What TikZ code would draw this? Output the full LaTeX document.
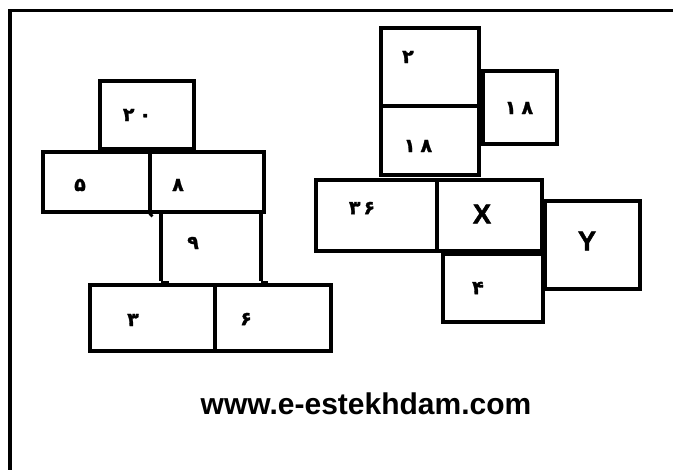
\documentclass[tikz,border=0pt]{standalone}
\usepackage{fontspec}
\setmainfont{Liberation Sans}
\newfontfamily\lbold{Liberation Sans Bold}
\newfontfamily\lheavy[FakeBold=2]{Liberation Sans Bold}
\newfontfamily\fa[Script=Arabic,FakeBold=1.5]{DejaVu Sans Bold}
\begin{document}
\begin{tikzpicture}[x=1pt,y=-1pt,
  box/.style={draw=black, line width=4pt, inner sep=0pt, fill=none},
  num/.style={inner sep=0pt, font=\fa\fontsize{19}{19}\selectfont},
  let/.style={inner sep=0pt, font=\lheavy\fontsize{27}{27}\selectfont},
  frameline/.style={line width=3.5pt}]
\fill[white] (0,0) rectangle (673,470);
\useasboundingbox (0,0) rectangle (673,470);
% frame
\coordinate (fbl) at (10,472);
\coordinate (ftl) at (10,10.5);
\coordinate (ftr) at (675,10.5);
\draw[frameline] (fbl) -- (ftl) -- (ftr);
% left group
\node[box, minimum width=94pt, minimum height=68pt] (b20) at (147,115) {};
\node[box, minimum width=107pt, minimum height=60pt] (b5) at (96.5,182) {};
\node[box, minimum width=114pt, minimum height=60pt] (b8) at (207,182) {};
\node[box, minimum width=125pt, minimum height=66pt] (b3) at (152.5,318) {};
\node[box, minimum width=116pt, minimum height=66pt] (b6) at (273,318) {};
\coordinate (n9a) at (161,212);
\coordinate (n9b) at (161,281);
\coordinate (n9c) at (261,212);
\coordinate (n9d) at (261,281);
\draw[line width=4pt] (n9a) -- (n9b);
\draw[line width=4pt] (n9c) -- (n9d);
\coordinate (t1a) at (161,282.5);
\coordinate (t1b) at (169,282.5);
\coordinate (t2a) at (261,282.5);
\coordinate (t2b) at (268,282.5);
\draw[line width=2pt] (t1a) -- (t1b);
\draw[line width=2pt] (t2a) -- (t2b);
\coordinate (stub) at (150,216);
\draw[line width=4pt] (b5.south east) -- (stub);
% right group
\node[box, minimum width=98pt, minimum height=78pt] (b2) at (430,67) {};
\node[box, minimum width=98pt, minimum height=69pt] (b18a) at (430,140.5) {};
\node[box, minimum width=74pt, minimum height=73pt] (b18b) at (520,107.5) {};
\node[box, minimum width=121pt, minimum height=71pt] (b36) at (376.5,215.5) {};
\node[box, minimum width=105pt, minimum height=71pt] (bX) at (489.5,215.5) {};
\node[box, minimum width=95pt, minimum height=88pt] (bY) at (592.5,245) {};
\node[box, minimum width=100pt, minimum height=68pt] (b4) at (493,288) {};
% labels
\node[num] (l20) at (137,115) {۲\hspace{5pt}۰};
\node[num] (l5) at (80,185) {۵};
\node[num] (l8) at (178,185) {۸};
\node[num] (l9) at (193,243) {۹};
\node[num] (l3) at (133,320) {۳};
\node[num] (l6) at (246,319) {۶};
\node[num] (l2) at (408,57) {۲};
\node[num] (l18b) at (519,108) {۱\hspace{5pt}۸};
\node[num] (l18a) at (418,146) {۱\hspace{5pt}۸};
\node[num] (l36) at (362,208) {۳\hspace{3pt}۶};
\node[num] (l4) at (478,288) {۴};
\node[let] (lX) at (482,214) {X};
\node[let] (lY) at (587,241) {Y};
\node[inner sep=0pt, font=\lbold\fontsize{30}{30}\selectfont] (url) at (366,404) {www.e-estekhdam.com};
\end{tikzpicture}
\end{document}
